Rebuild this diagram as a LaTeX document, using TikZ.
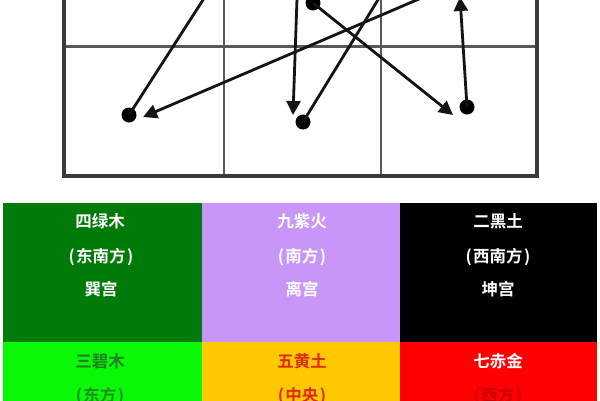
\documentclass[tikz,border=0pt]{standalone}
\usepackage{fontspec}
\newfontfamily\cjk{Noto Sans CJK SC}[BoldFont={Noto Sans CJK SC Bold}]
\usetikzlibrary{arrows.meta}
\definecolor{cellgreen}{HTML}{007A08}
\definecolor{cellpurple}{HTML}{C896F8}
\definecolor{celllime}{HTML}{08F808}
\definecolor{cellgold}{HTML}{FFC800}
\definecolor{cellred}{HTML}{FF0000}
\definecolor{txtgreen}{HTML}{1F7F1F}
\definecolor{txtorange}{HTML}{E02A08}
\definecolor{txtdred}{HTML}{C80000}
\definecolor{gridgray}{HTML}{3A3A3A}
\tikzset{
  outerline/.style={draw=gridgray, line width=3.5pt},
  innerline/.style={draw=gridgray!85, line width=2.2pt},
  dot/.style={circle, fill=black, inner sep=0pt, minimum size=15pt},
  flow/.style={draw=black!92, line width=2.8pt, -{Triangle[length=14pt,width=14pt]}},
  plain/.style={draw=black!92, line width=2.8pt},
  lbl/.style={font=\cjk\bfseries\fontsize{16.5pt}{18pt}\selectfont, inner sep=0pt}
}
\newcommand{\pr}[1]{(\kern1.5pt#1\kern1.5pt)}
\begin{document}
\begin{tikzpicture}[x=1pt,y=-1pt]
\useasboundingbox (0,0) rectangle (600,400);
\fill[white] (0,0) rectangle (600,400);
\begin{scope}
\clip (0,0) rectangle (600,400);
% grid
\draw[innerline] (224,-10) -- (224,176);
\draw[innerline] (381,-10) -- (381,176);
\draw[innerline] (64,46.5) -- (537,46.5);
\draw[outerline] (64,-10) -- (64,176) -- (537,176) -- (537,-10);
% dots and ends
\node[dot] (A) at (129,115) {};
\node[dot] (B) at (303,122) {};
\node[dot] (C) at (467,107) {};
\node[dot] (D) at (313,3) {};
\coordinate (a1) at (210,-11);
\coordinate (a2s) at (440,-10);
\coordinate (a2e) at (143,117);
\coordinate (a3s) at (297.3,-10);
\coordinate (a3e) at (293,115);
\coordinate (a4) at (384,-10);
\coordinate (a5e) at (453,115);
\coordinate (a6e) at (460,-3);
\draw[plain] (A.center) -- (a1);
\draw[flow] (a2s) -- (a2e);
\draw[flow] (a3s) -- (a3e);
\draw[plain] (B.center) -- (a4);
\draw[flow] (D.center) -- (a5e);
\draw[flow] (C.center) -- (a6e);
% table
\fill[cellgreen] (3,203) rectangle (202,342);
\fill[cellpurple] (202,203) rectangle (400,342);
\fill[black] (400,203) rectangle (597,342);
\fill[celllime] (3,342) rectangle (202,405);
\fill[cellgold] (202,342) rectangle (400,405);
\fill[cellred] (400,342) rectangle (597,405);
\end{scope}
% labels
\node[lbl, text=white] (t11) at (100,221) {四绿木};
\node[lbl, text=white] (t12) at (101,257) {\pr{东南方}};
\node[lbl, text=white] (t13) at (101,289) {巽宫};
\node[lbl, text=white] (t21) at (302,221) {九紫火};
\node[lbl, text=white] (t22) at (302,257) {\pr{南方}};
\node[lbl, text=white] (t23) at (302,289) {离宫};
\node[lbl, text=white] (t31) at (498,221) {二黑土};
\node[lbl, text=white] (t32) at (498,257) {\pr{西南方}};
\node[lbl, text=white] (t33) at (498,289) {坤宫};
\node[lbl, text=txtgreen] (b11) at (100,361) {三碧木};
\node[lbl, text=txtgreen!85!celllime] (b12) at (100,396) {\pr{东方}};
\node[lbl, text=txtorange] (b21) at (302,361) {五黄土};
\node[lbl, text=txtorange] (b22) at (302,396) {\pr{中央}};
\node[lbl, text=white] (b31) at (498,361) {七赤金};
\node[lbl, text=txtdred] (b32) at (498,396) {\pr{西方}};
\end{tikzpicture}
\end{document}
